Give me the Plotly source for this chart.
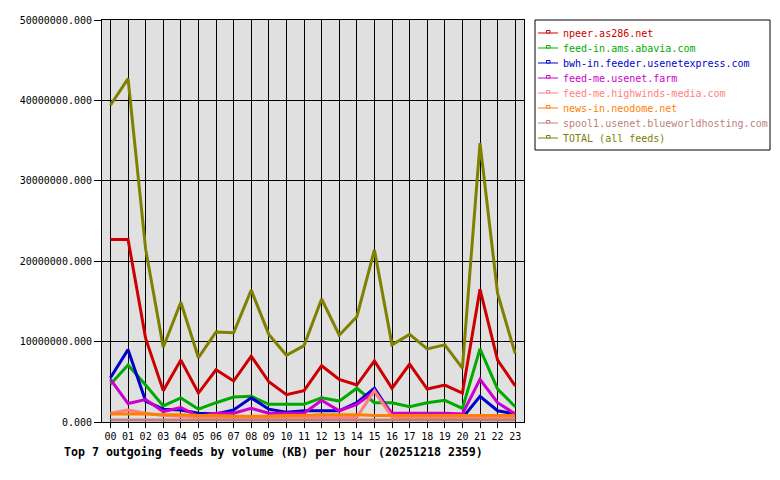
import plotly.graph_objects as go

hours = [f"{h:02d}" for h in range(24)]

names = [
    "npeer.as286.net",
    "feed-in.ams.abavia.com",
    "bwh-in.feeder.usenetexpress.com",
    "feed-me.usenet.farm",
    "feed-me.highwinds-media.com",
    "news-in.neodome.net",
    "spool1.usenet.blueworldhosting.com",
    "TOTAL (all feeds)",
]
colors = ["#cc0000", "#00aa00", "#0000cc", "#cc00cc", "#ff8080", "#ff8000", "#c08080", "#808000"]

npeer = [22.7, 22.7, 10.4, 3.9, 7.7, 3.6, 6.5, 5.1, 8.2, 5.0, 3.4, 3.9,
         7.0, 5.3, 4.6, 7.6, 4.2, 7.2, 4.1, 4.6, 3.6, 16.5, 7.7, 4.5]
abavia = [4.7, 7.1, 4.6, 2.0, 3.0, 1.6, 2.4, 3.1, 3.2, 2.2, 2.2, 2.2,
          3.0, 2.6, 4.2, 2.4, 2.4, 1.9, 2.4, 2.7, 1.7, 9.1, 4.1, 1.9]
usenetexpress = [5.5, 9.0, 2.6, 1.6, 1.5, 1.1, 1.0, 1.5, 3.0, 1.6, 1.2, 1.4,
                 1.4, 1.4, 2.4, 4.2, 0.9, 0.7, 0.9, 0.7, 0.5, 3.2, 1.4, 1.0]
usenetfarm = [5.3, 2.3, 2.8, 1.3, 1.8, 0.7, 1.1, 1.1, 1.7, 1.1, 1.1, 1.1,
              2.7, 1.4, 2.2, 3.8, 1.1, 1.1, 1.1, 1.1, 1.0, 5.3, 2.4, 1.0]
highwinds = [1.1, 1.5, 1.1, 0.8, 0.7, 0.6, 0.6, 0.6, 0.6, 0.6, 0.6, 0.6,
             0.6, 0.6, 0.6, 3.9, 0.6, 0.5, 0.5, 0.5, 0.5, 0.5, 0.5, 0.5]
neodome = [1.0, 1.0, 1.0, 0.9, 0.9, 0.8, 0.8, 0.7, 0.7, 0.7, 0.8, 0.8,
           0.9, 0.9, 0.9, 0.8, 0.8, 0.8, 0.8, 0.8, 0.8, 0.8, 0.8, 0.8]
blueworld = [0.25] * 24
total = [39.4, 42.7, 21.5, 9.3, 14.9, 8.0, 11.2, 11.1, 16.4, 10.9, 8.3, 9.5,
         15.3, 10.8, 13.1, 21.4, 9.6, 10.9, 9.1, 9.6, 6.7, 34.7, 16.0, 8.5]

series = [npeer, abavia, usenetexpress, usenetfarm, highwinds, neodome, blueworld, total]

yticks = [0, 10000000, 20000000, 30000000, 40000000, 50000000]
ytick_labels = [f"{v:.3f}" for v in yticks]

MONO = "DejaVu Sans Mono"

# plot area in pixels
L, R, T, B = 102, 524, 20, 422


def px(x):
    return (x - L) / (R - L)


def py(y):
    return (B - y) / (B - T)


fig = go.Figure()
for name, col, vals in zip(names, colors, series):
    fig.add_trace(go.Scatter(
        x=list(range(24)),
        y=[v * 1e6 for v in vals],
        mode="lines",
        name=name,
        line=dict(color=col, width=3),
        hoverinfo="skip",
        showlegend=False,
    ))

# hand-drawn legend box (GD-style)
shapes = [dict(type="rect", xref="paper", yref="paper",
               x0=px(535), x1=px(770), y0=py(20), y1=py(150),
               line=dict(color="black", width=1), fillcolor="white", layer="above")]
annotations = []
for i, (name, col) in enumerate(zip(names, colors)):
    yc = 33 + 15 * i
    shapes.append(dict(type="line", xref="paper", yref="paper",
                       x0=px(538), x1=px(558), y0=py(yc), y1=py(yc),
                       line=dict(color=col, width=1), layer="above"))
    shapes.append(dict(type="rect", xref="paper", yref="paper",
                       x0=px(546.5), x1=px(550), y0=py(yc), y1=py(yc - 2.5),
                       line=dict(color=col, width=1), fillcolor="white", layer="above"))
    annotations.append(dict(
        text=name, xref="paper", yref="paper",
        x=px(561), y=py(yc), xanchor="left", yanchor="middle",
        showarrow=False,
        font=dict(family=MONO, size=10, color=col),
    ))

annotations.append(dict(
    text="<b>Top 7 outgoing feeds by volume (KB) per hour (20251218 2359)</b>",
    xref="paper", yref="paper",
    x=px(62), y=py(452),
    xanchor="left", yanchor="middle",
    showarrow=False,
    font=dict(family=MONO, size=11.6, color="black"),
))

fig.update_layout(
    width=780, height=480,
    margin=dict(l=L, r=780 - R, t=T, b=480 - B, autoexpand=False),
    paper_bgcolor="white",
    plot_bgcolor="#e0e0e0",
    font=dict(family=MONO, size=10, color="black"),
    showlegend=False,
    xaxis=dict(
        range=[-0.48, 23.5],
        tickmode="array",
        tickvals=list(range(24)),
        ticktext=hours,
        showgrid=True, gridcolor="black", gridwidth=1,
        showline=True, linecolor="black", linewidth=1, mirror=True,
        ticks="outside", ticklen=5, tickcolor="black",
        zeroline=False,
        tickfont=dict(family=MONO, size=10),
    ),
    yaxis=dict(
        range=[0, 50000000],
        tickmode="array",
        tickvals=yticks,
        ticktext=ytick_labels,
        showgrid=True, gridcolor="black", gridwidth=1,
        showline=True, linecolor="black", linewidth=1, mirror=True,
        ticks="outside", ticklen=7, tickcolor="black",
        zeroline=False,
        tickfont=dict(family=MONO, size=10),
    ),
    shapes=shapes,
    annotations=annotations,
)

fig.write_html("out.html")
